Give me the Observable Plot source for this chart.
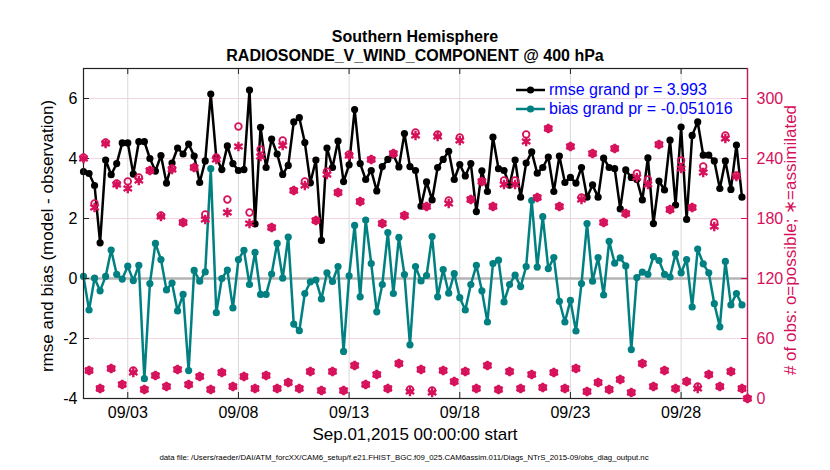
<!DOCTYPE html>
<html><head><meta charset="utf-8">
<script src="https://cdn.jsdelivr.net/npm/d3@7"></script>
<script src="https://cdn.jsdelivr.net/npm/@observablehq/plot@0.6"></script>
<style>
body{margin:0;background:#fff;font-family:"Liberation Sans",Arial,sans-serif;}
#fig{position:relative;width:830px;height:470px;overflow:hidden;background:#fff;}
.title{position:absolute;left:0;width:830px;text-align:center;font-weight:bold;font-size:16px;color:#000;line-height:19px;z-index:3;}
#plots{position:absolute;left:0;top:60px;width:830px;height:385px;z-index:1;}
#plots svg{position:absolute;left:0;top:0;}
#legend{position:absolute;left:514px;top:81px;z-index:4;}
.lg{height:18.5px;line-height:18.5px;display:flex;align-items:center;color:#0000ff;font-size:16px;white-space:nowrap;}
.lg svg{margin-right:2px;}
.lab{position:absolute;white-space:nowrap;font-size:17px;line-height:20px;transform:translate(-50%,-50%);z-index:3;}
.rot{transform:translate(-50%,-50%) rotate(-90deg);}
#caption{position:absolute;left:0;width:808px;top:453px;text-align:center;font-size:7.8px;color:#000;z-index:3;}
</style></head>
<body>
<div id="fig">
  <div id="plots"></div>
  <div class="title" style="top:27px">Southern Hemisphere</div>
  <div class="title" style="top:46px">RADIOSONDE_V_WIND_COMPONENT @ 400 hPa</div>
  <div id="legend"></div>
  <div class="lab rot" id="ylab" style="left:48px;top:236px;color:#000">rmse and bias (model - observation)</div>
  <div class="lab rot" id="ylab2" style="left:791px;top:240px;color:#d6105a"># of obs: o=possible; ∗=assimilated</div>
  <div class="lab" id="xlab" style="left:415px;top:435px;color:#000">Sep.01,2015 00:00:00 start</div>
  <div id="caption">data file: /Users/raeder/DAI/ATM_forcXX/CAM6_setup/f.e21.FHIST_BGC.f09_025.CAM6assim.011/Diags_NTrS_2015-09/obs_diag_output.nc</div>
</div>
<script>
// ---- data ----
const startDate = "2015-09-01T00:00:00Z";
const endDate = "2015-10-01T00:00:00Z";
const stepHours = 6;

const rmse = [3.56, 3.5, 3.1, 1.19, 3.95, 3.46, 3.83, 4.52, 4.52, 3.48, 4.56, 4.56, 4.0, 3.58, 4.1, 3.18, 3.85, 4.35, 4.15, 4.48, 4.08, 3.2, 3.92, 6.15,
4.03, 3.63, 4.42, 3.83, 3.6, 3.63, 6.28, 1.82, 5.04, 3.7, 4.65, 4.15, 3.47, 3.77, 5.22, 5.36, 4.53, 3.19, 3.95, 1.27, 4.35, 3.7, 4.58, 3.23,
3.79, 5.63, 3.83, 3.3, 3.6, 2.92, 3.73, 3.97, 4.12, 3.72, 4.83, 3.73, 3.6, 2.41, 3.22, 2.62, 3.7, 3.97, 4.24, 3.3, 3.8, 3.42, 3.83, 2.23,
3.59, 2.9, 4.71, 3.66, 3.6, 3.11, 3.95, 2.71, 3.85, 4.22, 3.51, 3.7, 4.05, 2.9, 4.08, 3.2, 3.37, 3.18, 3.7, 2.71, 3.12, 2.71, 4.01, 3.7,
3.66, 2.32, 3.62, 3.37, 3.3, 2.62, 4.02, 1.83, 3.25, 2.95, 4.61, 2.45, 5.05, 1.97, 4.77, 5.22, 4.11, 4.11, 3.92, 3.0, 3.92, 2.97, 4.45, 2.71];

const bias = [0.07, -1.05, 0.01, -0.41, 0.07, 0.95, 0.14, -0.02, 0.41, -0.07, 0.44, -3.34, -0.17, 1.17, 0.63, -0.38, -0.15, -1.08, -0.53, -3.07, 0.27, -0.09, 0.22, 3.66,
-1.14, 0.0, 0.28, -0.98, 0.63, 0.94, -0.2, 0.87, -0.53, -0.53, 0.15, 1.17, 0.01, 1.38, -1.52, -1.74, -0.5, -0.11, -0.05, -0.68, 0.19, -0.1, 0.4, -2.43,
0.09, 1.77, -0.61, 1.95, 0.5, -1.11, -0.2, 1.53, -0.5, 1.37, 0.13, -2.21, 0.4, -0.08, 0.1, 1.4, -0.61, 0.3, -0.49, 0.16, -0.64, -1.05, -0.2, 0.44,
-0.41, -1.45, 0.5, 0.61, -0.78, -0.2, 0.11, -0.27, 0.4, 2.6, 0.38, 2.06, 0.33, 0.7, -0.76, -1.45, -0.73, -1.75, -0.17, 1.83, -0.09, 0.7, -0.55, 1.24,
0.51, 0.69, 0.42, -2.37, 0.03, 0.21, 0.14, 0.73, 0.6, 0.14, 0.05, 0.83, 0.19, 0.63, -0.95, 0.98, 0.49, 0.19, -0.84, -1.61, 0.57, -0.88, -0.5, -0.88];

const obsPossible = [241, 28, 195, 10, 256, 30, 215, 14, 217, 28, 221, 9, 228, 23, 183, 12, 230, 29, 176, 14, 231, 22, 184, 9,
241, 26, 199, 12, 272, 22, 186, 10, 249, 23, 171, 10, 258, 16, 208, 10, 217, 27, 178, 8, 227, 27, 206, 8,
244, 33, 197, 14, 239, 24, 175, 10, 245, 35, 183, 9, 266, 29, 192, 8, 264, 28, 198, 17, 261, 27, 199, 10,
217, 33, 192, 9, 218, 27, 218, 10, 264, 24, 201, 11, 270, 26, 192, 10, 252, 30, 201, 7, 245, 16, 176, 9,
250, 19, 185, 6, 225, 35, 219, 12, 254, 28, 189, 10, 238, 17, 191, 12, 232, 24, 176, 12, 263, 27, 223, 10, 0];

const obsAssimilated = [240, 28, 191, 10, 255, 30, 214, 14, 210, 26, 218, 9, 228, 23, 182, 12, 229, 29, 176, 14, 231, 22, 179, 9,
239, 26, 186, 12, 252, 22, 175, 10, 242, 23, 171, 10, 253, 16, 208, 10, 213, 27, 178, 8, 224, 27, 206, 8,
243, 33, 197, 14, 239, 24, 175, 10, 245, 35, 183, 7, 263, 29, 192, 6, 262, 28, 195, 17, 258, 27, 199, 10,
217, 33, 192, 9, 214, 27, 214, 10, 257, 24, 201, 11, 270, 26, 192, 10, 252, 30, 199, 7, 245, 16, 176, 9,
250, 19, 185, 6, 221, 35, 214, 12, 254, 28, 189, 10, 230, 17, 191, 10, 226, 24, 172, 12, 260, 27, 222, 10, 0];

const xTickLabels = ["2015-09-03", "2015-09-08", "2015-09-13", "2015-09-18", "2015-09-23", "2015-09-28"];
const yTicks = [-4, -2, 0, 2, 4, 6];
const obsTicks = [0, 60, 120, 180, 240, 300];
const yDomain = [-4, 7];
const obsDomain = [0, 330];
const rmseGrand = 3.993;
const biasGrand = -0.051016;

// ---- build ----
const t0 = new Date(startDate), t1 = new Date(endDate);
const timeAt = i => new Date(t0.getTime() + i * stepHours * 3600e3);
const series = rmse.map((v, i) => ({t: timeAt(i), rmse: v, bias: bias[i]}));
const obs = obsPossible.map((v, i) => ({t: timeAt(i), possible: v, assim: obsAssimilated[i]}));
const xTicks = xTickLabels.map(s => new Date(s + "T00:00:00Z"));

const W = 830, H = 385, mL = 83, mR = 83, mT = 8, mB = 47;
const innerW = W - mL - mR, innerH = H - mT - mB;
const crimson = "#d6105a", teal = "#008080";
const fontCSS = {fontFamily: "'Liberation Sans', Arial, sans-serif", fontSize: "16px", background: "transparent", overflow: "visible"};

const main = Plot.plot({
  width: W, height: H, marginLeft: mL, marginRight: mR, marginTop: mT, marginBottom: mB,
  style: fontCSS,
  x: {type: "utc", domain: [t0, t1]},
  y: {domain: yDomain},
  marks: [
    Plot.ruleY(yTicks, {stroke: "#f4d3e2", strokeWidth: 1}),
    Plot.ruleX(xTicks, {stroke: "#d9d9d9", strokeWidth: 1}),
    Plot.ruleY([0], {stroke: "#b4b4b4", strokeWidth: 2.5}),
    Plot.line(series, {x: "t", y: "rmse", stroke: "#000", strokeWidth: 2.5}),
    Plot.dot(series, {x: "t", y: "rmse", fill: "#000", r: 3.6}),
    Plot.line(series, {x: "t", y: "bias", stroke: teal, strokeWidth: 2.5}),
    Plot.dot(series, {x: "t", y: "bias", fill: teal, r: 3.6}),
    Plot.ruleX(xTicks, {stroke: "#222", insetTop: innerH - 6}),
    Plot.ruleX(xTicks, {stroke: "#222", insetBottom: innerH - 6}),
    Plot.ruleY(yTicks, {stroke: "#222", insetRight: innerW - 6}),
    Plot.frame({stroke: "#222", strokeWidth: 1.2}),
    Plot.axisY({anchor: "left", ticks: yTicks, tickSize: 0, tickPadding: 6, tickFormat: d => String(d), label: null, fontSize: 16}),
    Plot.axisX({anchor: "bottom", ticks: xTicks, tickSize: 0, tickPadding: 8, tickFormat: d3.utcFormat("%m/%d"), label: null, fontSize: 16})
  ]
});

const over = Plot.plot({
  width: W, height: H, marginLeft: mL, marginRight: mR, marginTop: mT, marginBottom: mB,
  style: fontCSS,
  x: {type: "utc", domain: [t0, t1], axis: null},
  y: {domain: obsDomain, axis: null},
  marks: [
    Plot.dot(obs, {x: "t", y: "possible", symbol: "circle", stroke: crimson, fill: "none", strokeWidth: 1.8, r: 3.3}),
    Plot.dot(obs, {x: "t", y: "assim", symbol: "asterisk", stroke: crimson, strokeWidth: 2.4, r: 4.6}),
    Plot.ruleX([t1], {stroke: crimson, strokeWidth: 1.2}),
    Plot.ruleY(obsTicks, {stroke: crimson, insetLeft: innerW - 6}),
    Plot.axisY({anchor: "right", ticks: obsTicks, tickSize: 0, tickPadding: 9, fill: crimson, label: null, fontSize: 16})
  ]
});

document.getElementById("plots").append(main, over);

const legend = document.getElementById("legend");
[["#000", "rmse grand pr = " + rmseGrand], [teal, "bias grand pr = " + biasGrand]].forEach(([c, txt]) => {
  const row = document.createElement("div");
  row.className = "lg";
  row.innerHTML = `<svg width="33" height="18"><line x1="2" y1="9" x2="31" y2="9" stroke="${c}" stroke-width="2.5"/><circle cx="16.5" cy="9" r="3.6" fill="${c}"/></svg>`;
  const sp = document.createElement("span");
  sp.textContent = txt;
  row.append(sp);
  legend.append(row);
});
</script>
</body></html>
